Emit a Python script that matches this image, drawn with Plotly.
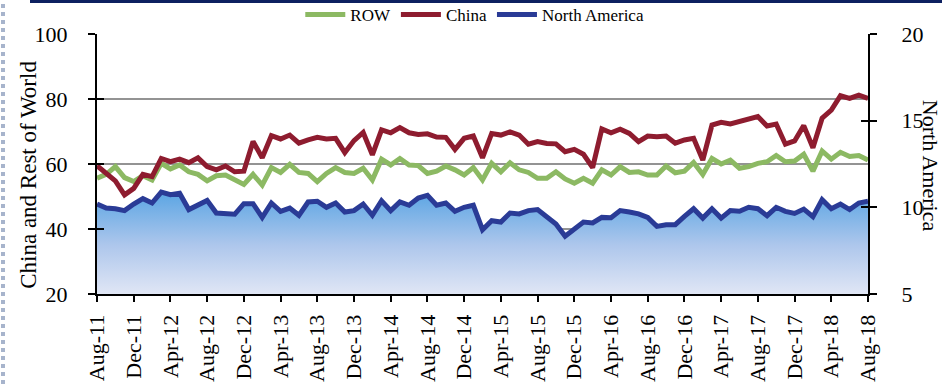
import pandas as pd
import plotly.graph_objects as go

months = [d.strftime("%b-%y") for d in pd.date_range("2011-08-01", "2018-08-01", freq="MS")]

china = [59.5, 57.1, 54.8, 50.5, 52.5, 56.8, 56.1, 61.7, 60.7, 61.5, 60.4, 61.9, 59.2, 58.2, 59.4, 57.6,
         57.8, 66.9, 61.9, 68.7, 67.7, 68.9, 66.4, 67.4, 68.2, 67.7, 67.9, 63.5, 67.2, 69.7, 62.8, 70.5,
         69.6, 71.2, 69.6, 69.1, 69.3, 68.3, 68.2, 64.5, 67.9, 68.6, 61.9, 69.4, 68.9, 69.9, 68.9, 66.1,
         66.9, 66.3, 66.2, 63.8, 64.5, 63.0, 58.9, 70.8, 69.6, 70.7, 69.4, 66.9, 68.6, 68.4, 68.6, 66.4,
         67.4, 67.9, 61.2, 72.0, 72.8, 72.3, 73.2, 74.1, 74.6, 71.7, 72.3, 66.1, 67.1, 71.8, 65.0, 74.1,
         76.6, 81.0, 80.2, 81.2, 80.2]

row = [55.6, 56.8, 59.2, 55.8, 54.6, 56.4, 55.1, 60.2, 58.5, 59.7, 57.6, 56.8, 54.8, 56.4, 56.6, 55.3,
       53.7, 56.8, 53.5, 58.9, 57.4, 59.9, 57.4, 57.1, 54.6, 57.1, 58.9, 57.4, 57.1, 58.7, 55.1, 61.5,
       59.7, 61.7, 59.7, 59.5, 57.1, 57.8, 59.4, 58.2, 56.6, 58.9, 55.1, 60.2, 57.6, 60.4, 58.2, 57.4,
       55.6, 55.6, 57.6, 55.4, 54.1, 55.6, 54.1, 58.2, 56.6, 59.2, 57.4, 57.6, 56.6, 56.6, 59.4, 57.3,
       57.8, 60.5, 56.8, 61.7, 60.0, 61.2, 58.7, 59.2, 60.2, 60.7, 62.6, 60.7, 60.9, 63.0, 57.8, 64.0,
       61.5, 63.6, 62.3, 62.6, 61.2]

north_america = [10.19, 9.96, 9.92, 9.81, 10.19, 10.5, 10.25, 10.88, 10.73, 10.81, 9.87, 10.12, 10.4, 9.67,
                 9.65, 9.6, 10.21, 10.21, 9.42, 10.25, 9.77, 9.96, 9.54, 10.31, 10.35, 10.0, 10.25, 9.73,
                 9.81, 10.19, 9.54, 10.38, 9.81, 10.31, 10.12, 10.54, 10.69, 10.12, 10.25, 9.77, 10.0, 10.12,
                 8.71, 9.23, 9.15, 9.67, 9.62, 9.81, 9.87, 9.42, 9.04, 8.33, 8.71, 9.15, 9.1, 9.42, 9.4,
                 9.81, 9.73, 9.62, 9.42, 8.9, 9.0, 9.0, 9.48, 9.92, 9.38, 9.92, 9.38, 9.81, 9.77, 10.0,
                 9.92, 9.52, 10.0, 9.77, 9.65, 9.9, 9.46, 10.44, 9.92, 10.19, 9.87, 10.25, 10.35]

tick_labels = months[::4]

GREEN = "#8cb963"
RED = "#8e1c2f"
BLUE = "#2a3b96"
FONT = "Liberation Serif"

fig = go.Figure()
fig.add_trace(go.Scatter(
    x=months, y=north_america, yaxis="y2", mode="none", fill="tozeroy", showlegend=False,
    fillgradient=dict(type="vertical", start=5, stop=10.6,
                      colorscale=[[0, "#e0e6f5"], [0.5, "#aec7ec"], [1, "#62a8e4"]]),
    hoverinfo="skip"))
fig.add_trace(go.Scatter(x=months, y=row, name="ROW", mode="lines",
                         line=dict(color=GREEN, width=5)))
fig.add_trace(go.Scatter(x=months, y=china, name="China", mode="lines",
                         line=dict(color=RED, width=5)))
fig.add_trace(go.Scatter(x=months, y=north_america, name="North America", mode="lines", yaxis="y2",
                         line=dict(color=BLUE, width=5)))

axfont = dict(family=FONT, size=22, color="black")
fig.update_layout(
    width=942, height=384,
    margin=dict(l=97, r=74, t=34, b=90, autoexpand=False),
    paper_bgcolor="white", plot_bgcolor="white",
    font=dict(family=FONT, color="black"),
    xaxis=dict(type="category", categoryorder="array", categoryarray=months,
               range=[0, 84], tickmode="array", tickvals=tick_labels, ticktext=tick_labels,
               tickangle=-90, tickfont=axfont, ticks="outside", ticklen=6, tickwidth=2,
               tickcolor="black", showline=True, linecolor="black", linewidth=2,
               showgrid=False, zeroline=False, ticklabelstandoff=4, automargin=False),
    yaxis=dict(range=[20, 100], dtick=20, tickfont=axfont, ticks="outside", ticklen=7,
               tickwidth=2, tickcolor="black", showline=True, linecolor="black", linewidth=2,
               showgrid=True, gridcolor="#939393", gridwidth=2, zeroline=False,
               ticklabelstandoff=16, automargin=False),
    yaxis2=dict(range=[5, 20], dtick=5, overlaying="y", side="right", tickfont=axfont,
                ticks="outside", ticklen=7, tickwidth=2, tickcolor="black", showline=True,
                linecolor="black", linewidth=2, showgrid=False, zeroline=False,
                ticklabelstandoff=20, automargin=False),
    yaxis3=dict(range=[20, 100], dtick=20, overlaying="y", side="left", ticks="inside",
                ticklen=7, tickwidth=2, tickcolor="black", showticklabels=False,
                showgrid=False, zeroline=False, showline=False),
    yaxis4=dict(range=[5, 20], dtick=5, overlaying="y", side="right", ticks="inside",
                ticklen=7, tickwidth=2, tickcolor="black", showticklabels=False,
                showgrid=False, zeroline=False, showline=False),
    legend=dict(orientation="h", x=0.49, y=1.073, xanchor="center", yanchor="middle",
                font=dict(family=FONT, size=17, color="black"), bgcolor="rgba(0,0,0,0)",
                traceorder="normal", itemwidth=40),
    showlegend=True,
    annotations=[
        dict(text="China and Rest of World", xref="paper", yref="paper", x=-0.089, y=0.46,
             showarrow=False, textangle=-90, font=dict(family=FONT, size=23, color="black"),
             xanchor="center", yanchor="middle"),
        dict(text="North America", xref="paper", yref="paper", x=1.082, y=0.492,
             showarrow=False, textangle=90, font=dict(family=FONT, size=22, color="black"),
             xanchor="center", yanchor="middle"),
    ],
    shapes=[
        dict(type="rect", xref="paper", yref="paper", x0=(30 - 97) / 771, x1=(942 - 97) / 771,
             y0=(294 - 3) / 260, y1=294 / 260, fillcolor="#0d2060", line=dict(width=0)),
        dict(type="line", xref="paper", yref="paper", x0=(3 - 97) / 771, x1=(3 - 97) / 771,
             y0=(294 - 384) / 260, y1=294 / 260, line=dict(color="#a7b4cc", width=4, dash="dot")),
    ],
)
# dummy traces to activate inward tick axes
fig.add_trace(go.Scatter(x=[months[0]], y=[None], yaxis="y3", showlegend=False, hoverinfo="skip"))
fig.add_trace(go.Scatter(x=[months[0]], y=[None], yaxis="y4", showlegend=False, hoverinfo="skip"))

fig.write_html("out.html")
